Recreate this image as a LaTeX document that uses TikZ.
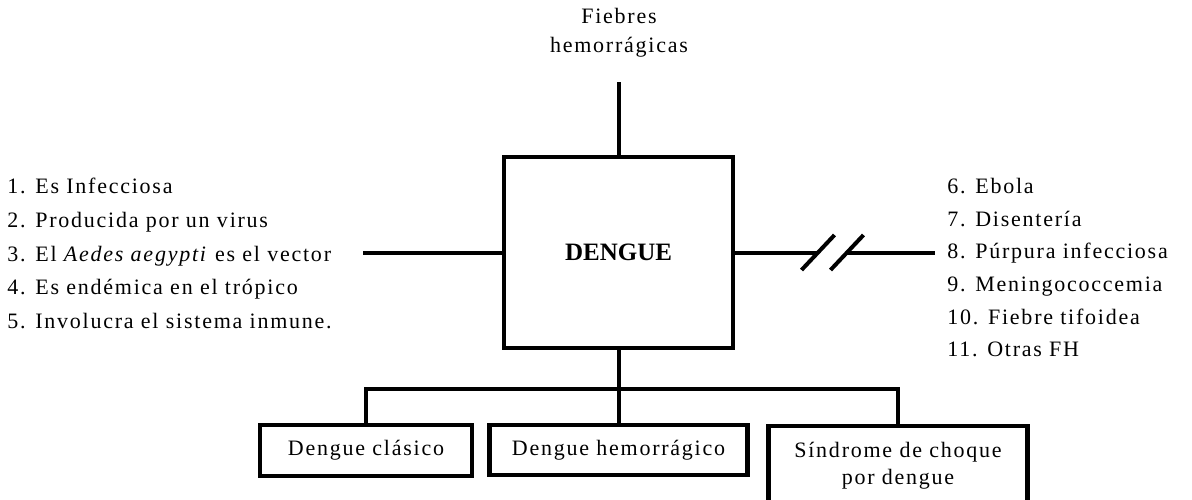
\documentclass[tikz,border=0pt]{standalone}
\usepackage{fontspec}
\setmainfont{Liberation Serif}
\newfontfamily\listfont[LetterSpace=8]{Liberation Serif}
\usepackage{tikz}
\usetikzlibrary{positioning}

\begin{document}
\begin{tikzpicture}[x=0.5pt,y=-0.5pt,
		txt/.style={font=\listfont\fontsize{11}{13.5}\selectfont, inner sep=0pt},
		subbox/.style={draw, line width=2.2pt, txt, align=center},
		conn/.style={line width=2pt}]
		\useasboundingbox (0,0) rectangle (1192,499);

		% Central box
		\node[draw, line width=2pt, minimum width=114.5pt, minimum height=95.5pt,
			font=\bfseries\fontsize{12.5}{15}\selectfont] (dengue) at (618.5,252.5) {DENGUE};

		% Top branch
		\node[txt, align=center, font=\listfont\fontsize{11}{14.5}\selectfont] (fiebres) at (619,33) {Fiebres\\hemorrágicas};
		\coordinate (top) at (618.5,82);
		\draw[conn] (dengue.north) -- (top);

		% Left list
		\node[txt, anchor=base west] (l1) at (7,193) {1. Es Infecciosa};
		\node[txt, anchor=base west] (l2) at (7,227) {2. Producida por un virus};
		\node[txt, anchor=base west] (l3) at (7,261) {3. El \textit{Aedes aegypti} es el vector};
		\node[txt, anchor=base west] (l4) at (7,294) {4. Es endémica en el trópico};
		\node[txt, anchor=base west] (l5) at (7,328) {5. Involucra el sistema inmune.};
		\coordinate (lend) at (363,252.5);
		\draw[conn] (lend) -- (dengue.west);

		% Right list
		\node[txt, anchor=base west] (r6) at (947,193) {6. Ebola};
		\node[txt, anchor=base west] (r7) at (947,226) {7. Disentería};
		\node[txt, anchor=base west] (r8) at (947,258) {8. Púrpura infecciosa};
		\node[txt, anchor=base west] (r9) at (947,291) {9. Meningococcemia};
		\node[txt, anchor=base west] (r10) at (947,324) {10. Fiebre tifoidea};
		\node[txt, anchor=base west] (r11) at (947,356) {11. Otras FH};
		\coordinate (brk1) at (818,252.5);
		\coordinate (brk2) at (847,252.5);
		\coordinate (rend) at (935,252.5);
		\draw[conn] (dengue.east) -- (brk1);
		\draw[conn] (brk2) -- (rend);
		\draw[conn] ([shift={(-16.5,17.5)}]brk1) -- ([shift={(16.5,-17.5)}]brk1); % break marks
		\draw[conn] ([shift={(-16.5,17.5)}]brk2) -- ([shift={(16.5,-17.5)}]brk2);

		% Bottom branch
		\node[subbox, minimum width=106pt, minimum height=25.5pt] (clasico) at (366,450.5) {Dengue clásico};
		\node[subbox, minimum width=129pt, minimum height=25pt] (hemo) at (618.5,450) {Dengue hemorrágico};
		\node[subbox, minimum width=129.5pt, minimum height=40pt, font=\listfont\fontsize{11}{13.5}\selectfont] (choque) at (898,466) {Síndrome de choque\\por dengue};
		\coordinate (bus) at (618.5,389);
		\draw[conn] (dengue.south) -- (hemo.north);
		\draw[conn] (clasico.north) |- (bus) -| (choque.north);
	\end{tikzpicture}
\end{document}
